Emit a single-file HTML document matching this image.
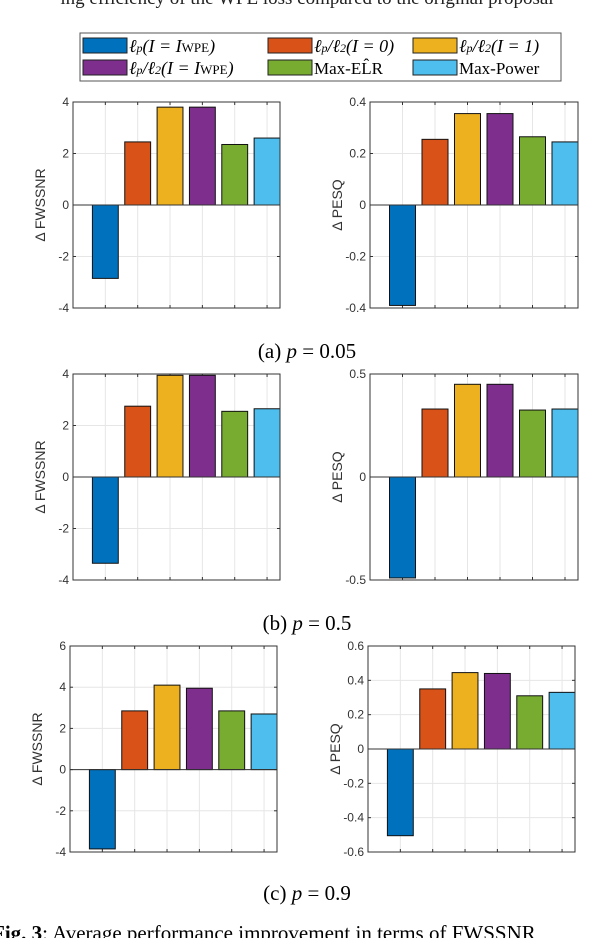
<!DOCTYPE html>
<html><head><meta charset="utf-8"><style>
body{margin:0;background:#fff;width:614px;height:938px;overflow:hidden;font-family:"Liberation Serif",serif}
svg{position:absolute;left:0;top:0}
</style></head><body>
<svg id="s" width="614" height="938">
<text x="307" y="4" font-size="19" text-anchor="middle" fill="#222" font-family="Liberation Serif">ing efficiency of the WPE loss compared to the original proposal</text>
<g>
<rect x="80" y="33" width="481" height="48" fill="#fff" stroke="#555" stroke-width="1"/>
<rect x="83" y="38" width="44" height="15" fill="#0072BD" stroke="#222"/><text x="129" y="52" font-size="18" font-style="italic">ℓ<tspan font-size="12">p</tspan>(I = I<tspan font-size="13" font-style="normal">WPE</tspan>)</text>
<rect x="268" y="38" width="44" height="15" fill="#D95319" stroke="#222"/><text x="314" y="52" font-size="18" font-style="italic">ℓ<tspan font-size="12">p</tspan>/ℓ<tspan font-size="12">2</tspan>(I = 0)</text>
<rect x="413" y="38" width="44" height="15" fill="#EDB120" stroke="#222"/><text x="459" y="52" font-size="18" font-style="italic">ℓ<tspan font-size="12">p</tspan>/ℓ<tspan font-size="12">2</tspan>(I = 1)</text>
<rect x="83" y="60" width="44" height="15" fill="#7E2F8E" stroke="#222"/><text x="129" y="74" font-size="18" font-style="italic">ℓ<tspan font-size="12">p</tspan>/ℓ<tspan font-size="12">2</tspan>(I = I<tspan font-size="13" font-style="normal">WPE</tspan>)</text>
<rect x="268" y="60" width="44" height="15" fill="#77AC30" stroke="#222"/><text x="314" y="74" font-size="17">Max-EL̂R</text>
<rect x="413" y="60" width="44" height="15" fill="#4DBEEE" stroke="#222"/><text x="459" y="74" font-size="17">Max-Power</text>
</g>
<text x="307" y="358" font-size="21" text-anchor="middle">(a) <tspan font-style="italic">p</tspan> = 0.05</text>
<text x="307" y="630" font-size="21" text-anchor="middle">(b) <tspan font-style="italic">p</tspan> = 0.5</text>
<text x="307" y="900" font-size="21" text-anchor="middle">(c) <tspan font-style="italic">p</tspan> = 0.9</text>
<text x="-8" y="940" font-size="21"><tspan font-weight="bold">Fig. 3</tspan>: Average performance improvement in terms of FWSSNR</text>
</svg>
<script>
const colors=["#0072BD","#D95319","#EDB120","#7E2F8E","#77AC30","#4DBEEE"];
const aFws=[-2.85,2.45,3.8,3.8,2.35,2.6];
const aPesq=[-0.39,0.255,0.355,0.355,0.265,0.245];
const bFws=[-3.35,2.75,3.95,3.95,2.55,2.65];
const bPesq=[-0.49,0.33,0.45,0.45,0.325,0.33];
const cFws=[-3.85,2.85,4.1,3.95,2.85,2.7];
const cPesq=[-0.505,0.35,0.445,0.44,0.31,0.33];
const ticksA=[-4,-2,0,2,4], ticksAP=[-0.4,-0.2,0,0.2,0.4];
const ticksB=[-4,-2,0,2,4], ticksBP=[-0.5,0,0.5];
const ticksC=[-4,-2,0,2,4,6], ticksCP=[-0.6,-0.4,-0.2,0,0.2,0.4,0.6];
const labelsAP=["-0.4","-0.2","0","0.2","0.4"],labelsBP=["-0.5","0","0.5"],labelsCP=["-0.6","-0.4","-0.2","0","0.2","0.4","0.6"];
const svg=document.getElementById('s');const NS="http://www.w3.org/2000/svg";
function mk(t,a,p){const e=document.createElementNS(NS,t);for(const k in a)e.setAttribute(k,a[k]);(p||svg).appendChild(e);return e;}
function panel(name,x0,x1,y0,y1,vals,ticks,labels,ylab){
 const g=mk('g',{});
 
 
 const ymin=ticks[0],ymax=ticks[ticks.length-1];
 const sx=v=>x0+(v/6.4)*(x1-x0);
 const sy=v=>y1-(v-ymin)/(ymax-ymin)*(y1-y0);
 for(let i=1;i<=6;i++){mk('line',{x1:sx(i),x2:sx(i),y1:y0,y2:y1,stroke:"#e6e6e6"},g);mk('line',{x1:sx(i),x2:sx(i),y1:y1,y2:y1-3,stroke:"#333"},g);mk('line',{x1:sx(i),x2:sx(i),y1:y0,y2:y0+3,stroke:"#333"},g);}
 ticks.forEach((t,i)=>{mk('line',{x1:x0,x2:x1,y1:sy(t),y2:sy(t),stroke:"#e6e6e6"},g);
  mk('line',{x1:x0,x2:x0+3,y1:sy(t),y2:sy(t),stroke:"#333"},g);mk('line',{x1:x1,x2:x1-3,y1:sy(t),y2:sy(t),stroke:"#333"},g);
  const tx=mk('text',{x:x0-4,y:sy(t)+4,'font-size':12,'text-anchor':'end',fill:'#333','font-family':'Liberation Sans'},g);
  
  
  tx.textContent=labels?labels[i]:String(t);});
 vals.forEach((v,i)=>{const c=i+1;const r=mk('rect',{x:sx(c-0.4),width:sx(0.8)-sx(0),y:Math.min(sy(v),sy(0)),height:Math.abs(sy(v)-sy(0)),fill:colors[i],stroke:"#111"},g);
  
  });
 mk('line',{x1:x0,x2:x1,y1:sy(0),y2:sy(0),stroke:"#333"},g);
 mk('rect',{x:x0,y:y0,width:x1-x0,height:y1-y0,fill:"none",stroke:"#333"},g);
 const lx=x0-28,ly=(y0+y1)/2;
 const yl=mk('text',{x:lx,y:ly,'font-size':14,'text-anchor':'middle',fill:'#333','font-family':'Liberation Sans',transform:`rotate(-90 ${lx} ${ly})`},g);
 
 
 yl.textContent=ylab;
}
panel('chart-a-fwssnr',73,280,102,308,aFws,ticksA,null,'Δ FWSSNR');
panel('chart-a-pesq',370,578,102,308,aPesq,ticksAP,labelsAP,'Δ PESQ');
panel('chart-b-fwssnr',73,280,374,580,bFws,ticksB,null,'Δ FWSSNR');
panel('chart-b-pesq',370,578,374,580,bPesq,ticksBP,labelsBP,'Δ PESQ');
panel('chart-c-fwssnr',70,277,646,852,cFws,ticksC,null,'Δ FWSSNR');
panel('chart-c-pesq',368,575,646,852,cPesq,ticksCP,labelsCP,'Δ PESQ');
</script>
</body></html>
